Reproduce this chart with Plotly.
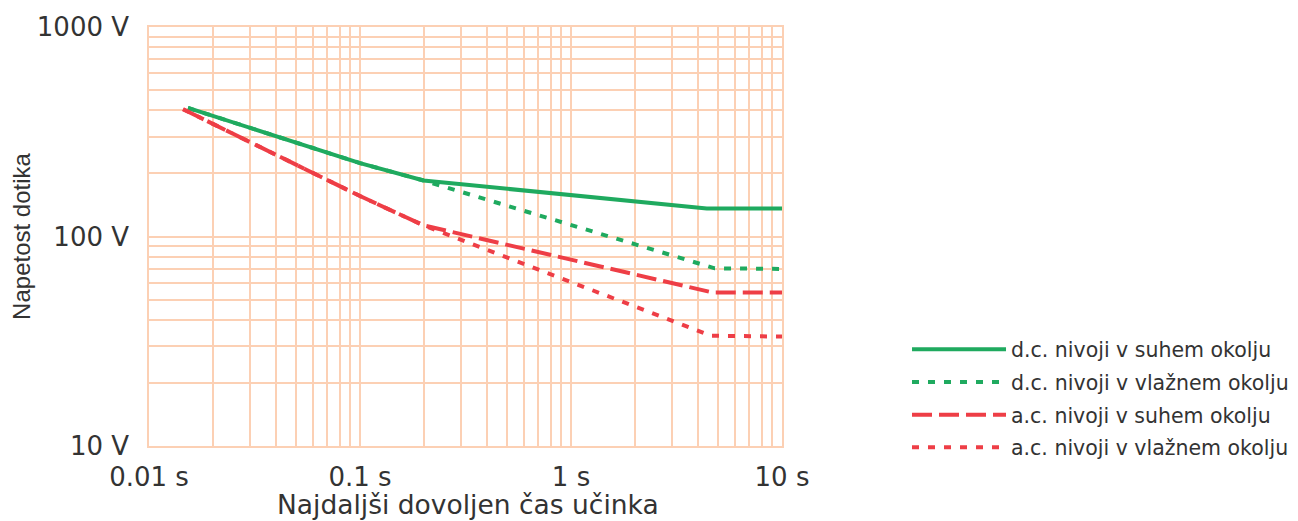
import plotly.graph_objects as go

# Data
names = ["d.c. nivoji v suhem okolju", "d.c. nivoji v vlažnem okolju",
         "a.c. nivoji v suhem okolju", "a.c. nivoji v vlažnem okolju"]
t_dc_dry = [0.0153, 0.1, 0.2, 4.4, 10]
v_dc_dry = [411, 224, 185, 136, 136]
t_dc_wet = [0.0153, 0.1, 0.2, 4.8, 10]
v_dc_wet = [411, 224, 185, 70.5, 70]
t_ac_dry = [0.0145, 0.1, 0.2, 4.7, 10]
v_ac_dry = [405, 156, 113, 54, 54]
t_ac_wet = [0.0145, 0.1, 0.2, 4.6, 10]
v_ac_wet = [405, 156, 113, 33.6, 33.3]

x_decades = [0.01, 0.1, 1, 10]
x_labels = ["0.01 s", "0.1 s", "1 s", "10 s"]
y_decades = [10, 100, 1000]
y_labels = ["10 V", "100 V", "1000 V"]
x_title = "Najdaljši dovoljen čas učinka"
y_title = "Napetost dotika"

GREEN = "#1faa5f"
RED = "#ee3e46"
GRID = "#fcd0b4"
FONT = "DejaVu Sans, sans-serif"
FONT2 = "Liberation Sans, Arial, sans-serif"
TXT = "#333333"

def full_ticks(decades, labels):
    vals, texts = [], []
    for i, d in enumerate(decades):
        vals.append(d)
        texts.append(labels[i])
        if i < len(decades) - 1:
            for m in range(2, 10):
                vals.append(d * m)
                texts.append("")
    return vals, texts

xv, xt = full_ticks(x_decades, x_labels)
yv, yt = full_ticks(y_decades, y_labels)

fig = go.Figure()
series = [
    (t_dc_dry, v_dc_dry, GREEN, "solid"),
    (t_dc_wet, v_dc_wet, GREEN, "7px,9px"),
    (t_ac_dry, v_ac_dry, RED, "20px,7px"),
    (t_ac_wet, v_ac_wet, RED, "7px,9px"),
]
for i, ((t, v, c, d), n) in enumerate(zip(series, names)):
    fig.add_trace(go.Scatter(x=t, y=v, mode="lines", name=n, legendgroup=f"g{i}",
                             line=dict(color=c, width=4, dash=d)))

fig.update_layout(
    width=1290, height=513,
    margin=dict(l=141, r=516, t=19, b=75, autoexpand=False),
    paper_bgcolor="white", plot_bgcolor="white",
    font=dict(family=FONT, color=TXT),
    showlegend=True,
    legend=dict(x=1.1975, y=0.278, xanchor="left", yanchor="top",
                font=dict(size=20.5, family=FONT, color=TXT),
                itemwidth=94, tracegroupgap=3, bgcolor="rgba(0,0,0,0)"),
    annotations=[dict(text=x_title, xref="paper", yref="paper", x=0.5047, y=-0.14,
                      xanchor="center", yanchor="middle", showarrow=False,
                      font=dict(size=26.5, family=FONT, color=TXT))],
)
fig.update_xaxes(type="log", range=[-2, 1], tickvals=xv, ticktext=xt,
                 showgrid=True, gridcolor=GRID, gridwidth=1.5, automargin=False,
                 showline=True, mirror=True, linecolor=GRID, linewidth=1.5,
                 ticks="outside", ticklen=7, tickcolor="rgba(0,0,0,0)",
                 tickfont=dict(size=26, family=FONT, color=TXT),
                 zeroline=False)
fig.update_yaxes(type="log", range=[1, 3], tickvals=yv, ticktext=yt,
                 showgrid=True, gridcolor=GRID, gridwidth=1.5, automargin=False,
                 showline=True, mirror=True, linecolor=GRID, linewidth=1.5,
                 ticks="outside", ticklen=13, tickcolor="rgba(0,0,0,0)",
                 tickfont=dict(size=26, family=FONT, color=TXT),
                 zeroline=False,
                 title=dict(text=y_title,
                            font=dict(size=24, family=FONT2, color=TXT), standoff=6))

fig.write_html("out.html")
